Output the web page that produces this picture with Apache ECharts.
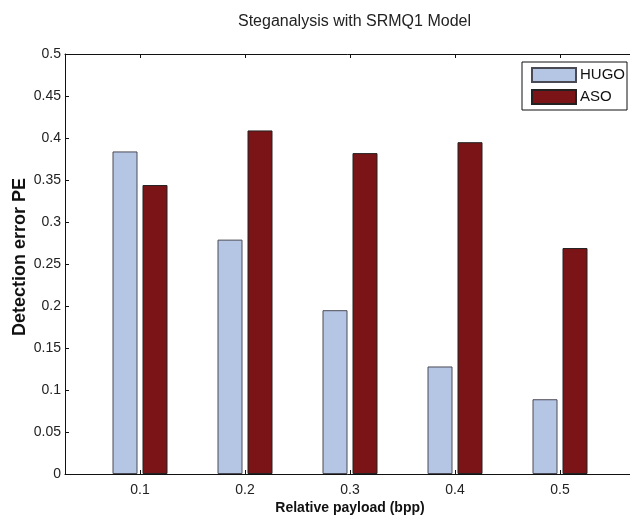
<!DOCTYPE html>
<html>
<head>
<meta charset="utf-8">
<script src="https://cdn.jsdelivr.net/npm/echarts@6/dist/echarts.min.js"></script>
<style>
html,body{margin:0;padding:0;background:#fff;}
#chart{width:630px;height:519px;}
</style>
</head>
<body>
<div id="chart"></div>
<script>
const payloads = [0.1, 0.2, 0.3, 0.4, 0.5];
const hugo = [0.384, 0.279, 0.195, 0.128, 0.089];
const aso = [0.344, 0.409, 0.382, 0.395, 0.269];
const yTicks = [0, 0.05, 0.1, 0.15, 0.2, 0.25, 0.3, 0.35, 0.4, 0.45, 0.5];
const xTickLabels = ['0.1', '0.2', '0.3', '0.4', '0.5'];

const FONT = 'Liberation Sans, Arial, Helvetica, sans-serif';
const xMin = 0.1 - 0.5 / 7, xMax = 0.5 + 0.5 / 7;

const chart = echarts.init(document.getElementById('chart'), null, {renderer: 'canvas'});

const xAxisBase = {
  type: 'value', min: xMin, max: xMax,
  splitLine: {show: false},
  axisLine: {show: true, onZero: false, lineStyle: {color: '#111', width: 1}},
  axisTick: {show: true, inside: true, length: 4, customValues: payloads, lineStyle: {color: '#111'}}
};
const yAxisBase = {
  type: 'value', min: 0, max: 0.5, interval: 0.05,
  splitLine: {show: false},
  axisLine: {show: true, lineStyle: {color: '#111', width: 1}},
  axisTick: {show: true, inside: true, length: 4, customValues: yTicks, lineStyle: {color: '#111'}}
};

chart.setOption({
  animation: false,
  backgroundColor: '#fff',
  title: {
    text: 'Steganalysis with SRMQ1 Model',
    left: 233, top: 9,
    textStyle: {fontFamily: FONT, fontSize: 16, fontWeight: 'normal', color: '#222'}
  },
  legend: {
    orient: 'vertical', right: 3, top: 62,
    padding: [5, 2, 5, 9], itemGap: 6,
    itemWidth: 44, itemHeight: 14,
    borderColor: '#111', borderWidth: 1, backgroundColor: '#fff',
    icon: 'rect',
    textStyle: {fontFamily: FONT, fontSize: 15, color: '#111', padding: [0, 0, 0, -1]},
    data: ['HUGO', 'ASO']
  },
  grid: {left: 65, top: 54, bottom: 45, right: -5, containLabel: false, outerBoundsMode: 'none'},
  xAxis: [
    Object.assign({}, xAxisBase, {
      position: 'bottom',
      name: 'Relative payload (bpp)', nameLocation: 'middle', nameGap: 27, nameMoveOverlap: false,
      nameTextStyle: {fontFamily: FONT, fontSize: 14, fontWeight: 'bold', color: '#111'},
      axisLabel: {
        show: true, margin: 9, customValues: payloads,
        formatter: function (v) { return xTickLabels[payloads.indexOf(Math.round(v * 10) / 10)] || ''; },
        fontFamily: FONT, fontSize: 14, color: '#222'
      }
    }),
    Object.assign({}, xAxisBase, {position: 'top', axisLabel: {show: false}})
  ],
  yAxis: [
    Object.assign({}, yAxisBase, {
      position: 'left',
      name: 'Detection error PE', nameLocation: 'middle', nameGap: 36, nameMoveOverlap: false,
      nameTextStyle: {fontFamily: FONT, fontSize: 18, fontWeight: 'bold', color: '#111', padding: [0, 0, 0, 14]},
      axisLabel: {
        show: true, margin: 4,
        formatter: function (v) { return String(Math.round(v * 100) / 100); },
        fontFamily: FONT, fontSize: 14, color: '#222'
      }
    }),
    Object.assign({}, yAxisBase, {position: 'right', axisLabel: {show: false}})
  ],
  series: [
    {
      name: 'HUGO', type: 'bar', xAxisIndex: 0, yAxisIndex: 0,
      barWidth: 25, barGap: '20%',
      itemStyle: {color: '#b5c5e4', borderColor: '#4a4a55', borderWidth: 1},
      data: payloads.map((p, i) => [p, hugo[i]])
    },
    {
      name: 'ASO', type: 'bar', xAxisIndex: 0, yAxisIndex: 0,
      barWidth: 25, barGap: '20%',
      itemStyle: {color: '#7b1416', borderColor: '#222', borderWidth: 1},
      data: payloads.map((p, i) => [p, aso[i]])
    }
  ]
});
</script>
</body>
</html>
